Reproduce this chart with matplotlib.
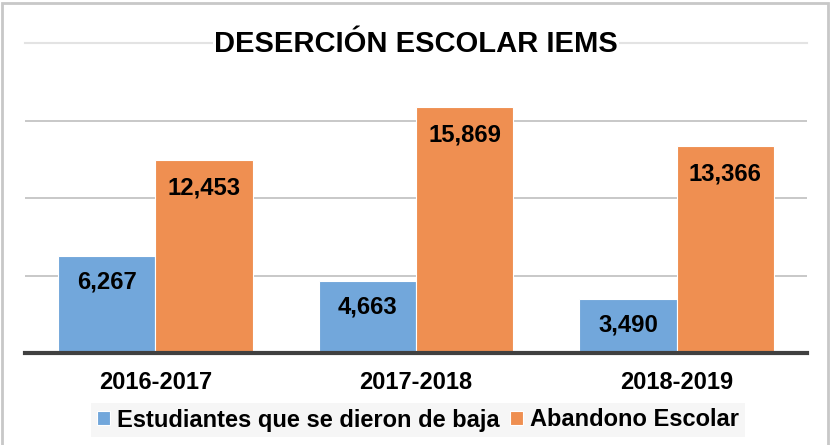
import matplotlib
matplotlib.use("Agg")
import matplotlib.pyplot as plt
import numpy as np
from matplotlib.patches import Rectangle

categories = ["2016-2017", "2017-2018", "2018-2019"]
bajas = [6267, 4663, 3490]
abandono = [12453, 15869, 13366]
series_names = ["Estudiantes que se dieron de baja", "Abandono Escolar"]
labels_bajas = ["6,267", "4,663", "3,490"]
labels_abandono = ["12,453", "15,869", "13,366"]

plt.rcParams['font.family'] = ['Liberation Sans', 'DejaVu Sans']

W, H = 830, 445
fig = plt.figure(figsize=(W / 100, H / 100), dpi=100)

# outer border
fig.patches.append(Rectangle((1.5 / W, -0.01), (W - 3.5) / W, 1 - 2.5 / H + 0.01,
                             transform=fig.transFigure, fill=False,
                             edgecolor='#c8c8c8', linewidth=2))

ax_l, ax_r = 25, 807
ax_b, ax_t = 353, 43
ax = fig.add_axes([ax_l / W, 1 - ax_b / H, (ax_r - ax_l) / W, (ax_b - ax_t) / H])

blue = '#72a7db'
orange = '#ef8f51'
x = np.arange(len(categories))
w = 0.373
b1 = ax.bar(x - w / 2, bajas, w, color=blue, edgecolor='white', linewidth=0.8, zorder=3,
            label=series_names[0])
b2 = ax.bar(x + w / 2, abandono, w, color=orange, edgecolor='white', linewidth=0.8, zorder=3,
            label=series_names[1])

ax.set_xlim(-0.5, 2.5)
ax.set_ylim(0, 20000)
for yv in [5000, 10000, 15000]:
    ax.axhline(yv, color='#bfbfbf', linewidth=1.2, zorder=1)
ax.axhline(20000, color='#e3e3e3', linewidth=1.5, zorder=1, clip_on=False)
ax.axhline(0, color='#404040', linewidth=3, zorder=4, clip_on=False)

for s in ax.spines.values():
    s.set_visible(False)
ax.set_yticks([])
ax.set_xticks(x)
ax.set_xticklabels(categories, fontsize=17, fontweight='bold')
ax.tick_params(axis='x', length=0, pad=13)

for rect, lab in zip(b1, labels_bajas):
    ax.annotate(lab, (rect.get_x() + rect.get_width() / 2, rect.get_height()),
                xytext=(0, -26), textcoords='offset pixels', ha='center', va='center',
                fontsize=17.2, fontweight='bold', zorder=5)
for rect, lab in zip(b2, labels_abandono):
    ax.annotate(lab, (rect.get_x() + rect.get_width() / 2, rect.get_height()),
                xytext=(0, -28), textcoords='offset pixels', ha='center', va='center',
                fontsize=17.2, fontweight='bold', zorder=5)

fig.text(416 / W, 1 - 44 / H, "DESERCIÓN ESCOLAR IEMS", ha='center', va='center',
         fontsize=21, fontweight='bold', zorder=10,
         bbox=dict(facecolor='white', edgecolor='none', pad=1))

leg = fig.legend(handles=[b1, b2], labels=series_names, loc='center',
                 bbox_to_anchor=(418 / W, 1 - 420 / H), ncol=2, frameon=True,
                 prop={'weight': 'bold', 'size': 17},
                 handlelength=0.55, handleheight=0.55, handletextpad=0.3,
                 columnspacing=0.45, borderpad=0.25, fancybox=False)
leg.get_frame().set_facecolor('#f4f4f4')
leg.get_frame().set_edgecolor('none')
for h in leg.legend_handles:
    h.set_edgecolor('white')

fig.savefig("out.png", dpi=100)
